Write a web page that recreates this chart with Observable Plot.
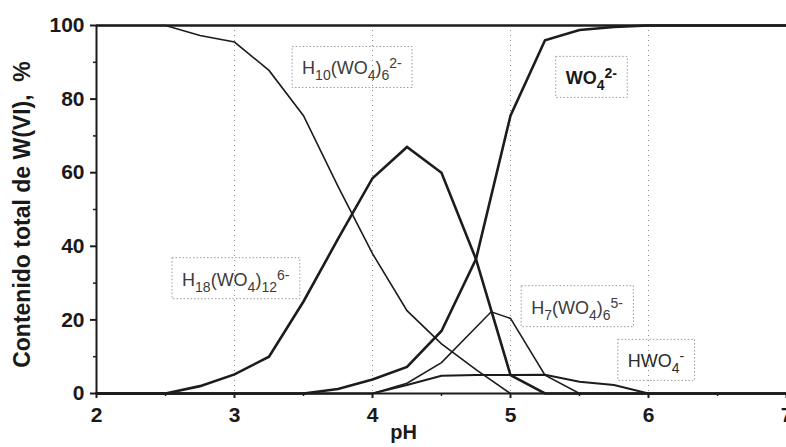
<!DOCTYPE html>
<html>
<head>
<meta charset="utf-8">
<script src="https://cdn.jsdelivr.net/npm/d3@7"></script>
<script src="https://cdn.jsdelivr.net/npm/@observablehq/plot@0.6"></script>
<style>
  html, body { margin: 0; padding: 0; background: #ffffff; }
  #chart svg { display: block; }
</style>
</head>
<body>
<div id="chart"></div>
<script>
// ---- axis ticks ----
const xTicks = [2, 3, 4, 5, 6, 7];
const xMinorTicks = [2.5, 3.5, 4.5, 5.5, 6.5];
const yTicks = [0, 20, 40, 60, 80, 100];
const yMinorTicks = [10, 30, 50, 70, 90];
const gridPH = [3, 4, 5, 6];

// ---- series (pH, % of total W(VI)) ----
// thin curve falling from 100 %
const phFalling = [2, 2.5, 2.75, 3.0, 3.25, 3.5, 3.75, 4.0, 4.25, 4.5, 4.75, 5.0, 7];
const valFalling = [100, 100, 97.3, 95.5, 87.8, 75.5, 56.3, 38, 22.5, 13.5, 6.5, 0, 0];

// thick bell curve (max ~67 % at pH 4.25)
const phBell = [2, 2.5, 2.75, 3.0, 3.25, 3.5, 3.75, 4.0, 4.25, 4.5, 4.75, 5.0, 5.25, 7];
const valBell = [0, 0, 2, 5.2, 10, 25, 42, 58.5, 67, 60, 36.5, 5, 0, 0];

// thick curve WO4 2- rising to 100 %
const phWO4 = [2, 3.5, 3.75, 4.0, 4.25, 4.5, 4.75, 5.0, 5.25, 5.5, 5.75, 6.0, 7];
const valWO4 = [0, 0, 1.2, 3.8, 7.2, 17, 36.5, 75.5, 96, 98.8, 99.6, 100, 100];

// thin curve H7(WO4)6 5-
const phH7 = [2, 4.0, 4.25, 4.5, 4.86, 5.0, 5.25, 5.5, 7];
const valH7 = [0, 0, 2.8, 8.4, 22.2, 20.4, 5, 0, 0];

// curve HWO4 -
const phHWO4 = [2, 4.0, 4.25, 4.5, 4.75, 5.0, 5.25, 5.5, 5.75, 6.0, 7];
const valHWO4 = [0, 0, 2.3, 4.8, 5, 5, 5.1, 3.2, 2.3, 0, 0];

// ---- labels ----
const labelText = ["H10(WO4)62-", "WO42-", "H18(WO4)126-", "H7(WO4)65-", "HWO4-"];
const labelParts = [
  [["H"], ["10", "sub"], ["(WO"], ["4", "sub"], [")"], ["6", "sub"], ["2-", "sup"]],
  [["WO"], ["4", "sub"], ["2-", "sup"]],
  [["H"], ["18", "sub"], ["(WO"], ["4", "sub"], [")"], ["12", "sub"], ["6-", "sup"]],
  [["H"], ["7", "sub"], ["(WO"], ["4", "sub"], [")"], ["6", "sub"], ["5-", "sup"]],
  [["HWO"], ["4", "sub"], ["-", "sup"]]
];
const labelPH = [3.49, 5.40, 2.62, 5.15, 5.85];
const labelVal = [86.7, 84.0, 29.3, 21.7, 7.1];
const labelWeight = ["normal", "bold", "normal", "normal", "normal"];
const labelFill = ["#3c3c3c", "#1a1a1a", "#3c3c3c", "#3c3c3c", "#2a2a2a"];

const yTitle = "Contenido total de W(VI),\u00a0 %";
const xTitle = "pH";

const toRows = (ph, val) => ph.map((p, i) => ({pH: p, v: val[i]}));
const labels = labelText.map((t, i) => ({pH: labelPH[i], v: labelVal[i], text: t}));

const ink = "#1c1c1c";
const lineOpts = (w) => ({x: "pH", y: "v", stroke: ink, strokeWidth: w, strokeLinejoin: "miter", strokeMiterlimit: 4});

const chart = Plot.plot({
  width: 786,
  height: 447,
  marginLeft: 96,
  marginRight: 0,
  marginTop: 25,
  marginBottom: 54,
  style: {
    fontFamily: "'Liberation Sans', Arial, sans-serif",
    fontSize: "21px",
    fontWeight: "bold",
    background: "#ffffff",
    color: "#1a1a1a",
    overflow: "visible"
  },
  x: {domain: [2, 7]},
  y: {domain: [0, 100]},
  marks: [
    Plot.ruleX(gridPH, {stroke: "#8a8a8a", strokeWidth: 1, strokeDasharray: "1,4"}),
    Plot.axisX({ticks: xTicks, tickSize: 5, tickPadding: 9, tickFormat: d => String(d), label: null, strokeWidth: 2, stroke: ink}),
    Plot.axisX({ticks: xMinorTicks, tickSize: 3, tickFormat: () => "", label: null, strokeWidth: 1.5, stroke: ink}),
    Plot.axisY({ticks: yTicks, tickSize: 6, tickPadding: 6, tickFormat: d => String(d), label: null, strokeWidth: 2, stroke: ink}),
    Plot.axisY({ticks: yMinorTicks, tickSize: 3, tickFormat: () => "", label: null, strokeWidth: 1.5, stroke: ink}),
    Plot.ruleY([100], {stroke: ink, strokeWidth: 2.5}),
    Plot.ruleY([0], {stroke: ink, strokeWidth: 2}),
    Plot.ruleX([2], {stroke: ink, strokeWidth: 2}),
    Plot.line(toRows(phFalling, valFalling), lineOpts(1.6)),
    Plot.line(toRows(phH7, valH7), lineOpts(1.6)),
    Plot.line(toRows(phHWO4, valHWO4), lineOpts(2)),
    Plot.line(toRows(phBell, valBell), lineOpts(2.6)),
    Plot.line(toRows(phWO4, valWO4), lineOpts(2.6)),
    Plot.text(labels, {
      x: "pH", y: "v", text: "text", textAnchor: "start",
      fontSize: 18, fontWeight: "normal", fill: "#444"
    }),
    Plot.text([yTitle], {text: d => d, frameAnchor: "left", textAnchor: "middle", rotate: -90, dx: -74, dy: 5, fontSize: 23, fontWeight: "bold", fill: "#1a1a1a"}),
    Plot.text([xTitle], {text: d => d, frameAnchor: "bottom", textAnchor: "middle", dx: -38, dy: 45, fontSize: 20, fontWeight: "bold", fill: "#1a1a1a"})
  ]
});

document.getElementById("chart").append(chart);

// ---- rich text (sub/superscripts) and dotted label boxes ----
const SVGNS = "http://www.w3.org/2000/svg";
const svgRect = chart.getBoundingClientRect();
const allTexts = Array.from(chart.querySelectorAll("text"));
labelText.forEach((label, i) => {
  const el = allTexts.find(t => t.textContent === label);
  if (!el) return;
  const parts = labelParts[i];
  const yAttr = el.getAttribute("y");
  if (yAttr == null || /em$/.test(yAttr)) el.setAttribute("y", "0");
  el.removeAttribute("dy");
  el.setAttribute("font-weight", labelWeight[i]);
  el.setAttribute("fill", labelFill[i]);
  el.style.fontWeight = labelWeight[i];
  while (el.firstChild) el.removeChild(el.firstChild);
  let shift = 0;
  for (const [s, kind] of parts) {
    const t = document.createElementNS(SVGNS, "tspan");
    const target = kind === "sub" ? 6 : kind === "sup" ? -6 : 0;
    t.setAttribute("dy", String(target - shift));
    shift = target;
    if (kind) t.setAttribute("font-size", "14");
    t.textContent = s;
    el.appendChild(t);
  }
  const m = el.getCTM();
  const baseline = m.f + parseFloat(el.getAttribute("y") || "0");
  const r = el.getBoundingClientRect();
  const rect = document.createElementNS(SVGNS, "rect");
  rect.setAttribute("x", r.left - svgRect.left - 10);
  rect.setAttribute("y", baseline - 28);
  rect.setAttribute("width", r.width + 20);
  rect.setAttribute("height", 41);
  rect.setAttribute("fill", "none");
  rect.setAttribute("stroke", "#9a9a9a");
  rect.setAttribute("stroke-width", "1");
  rect.setAttribute("stroke-dasharray", "1.5,2");
  chart.appendChild(rect);
});
</script>
</body>
</html>
